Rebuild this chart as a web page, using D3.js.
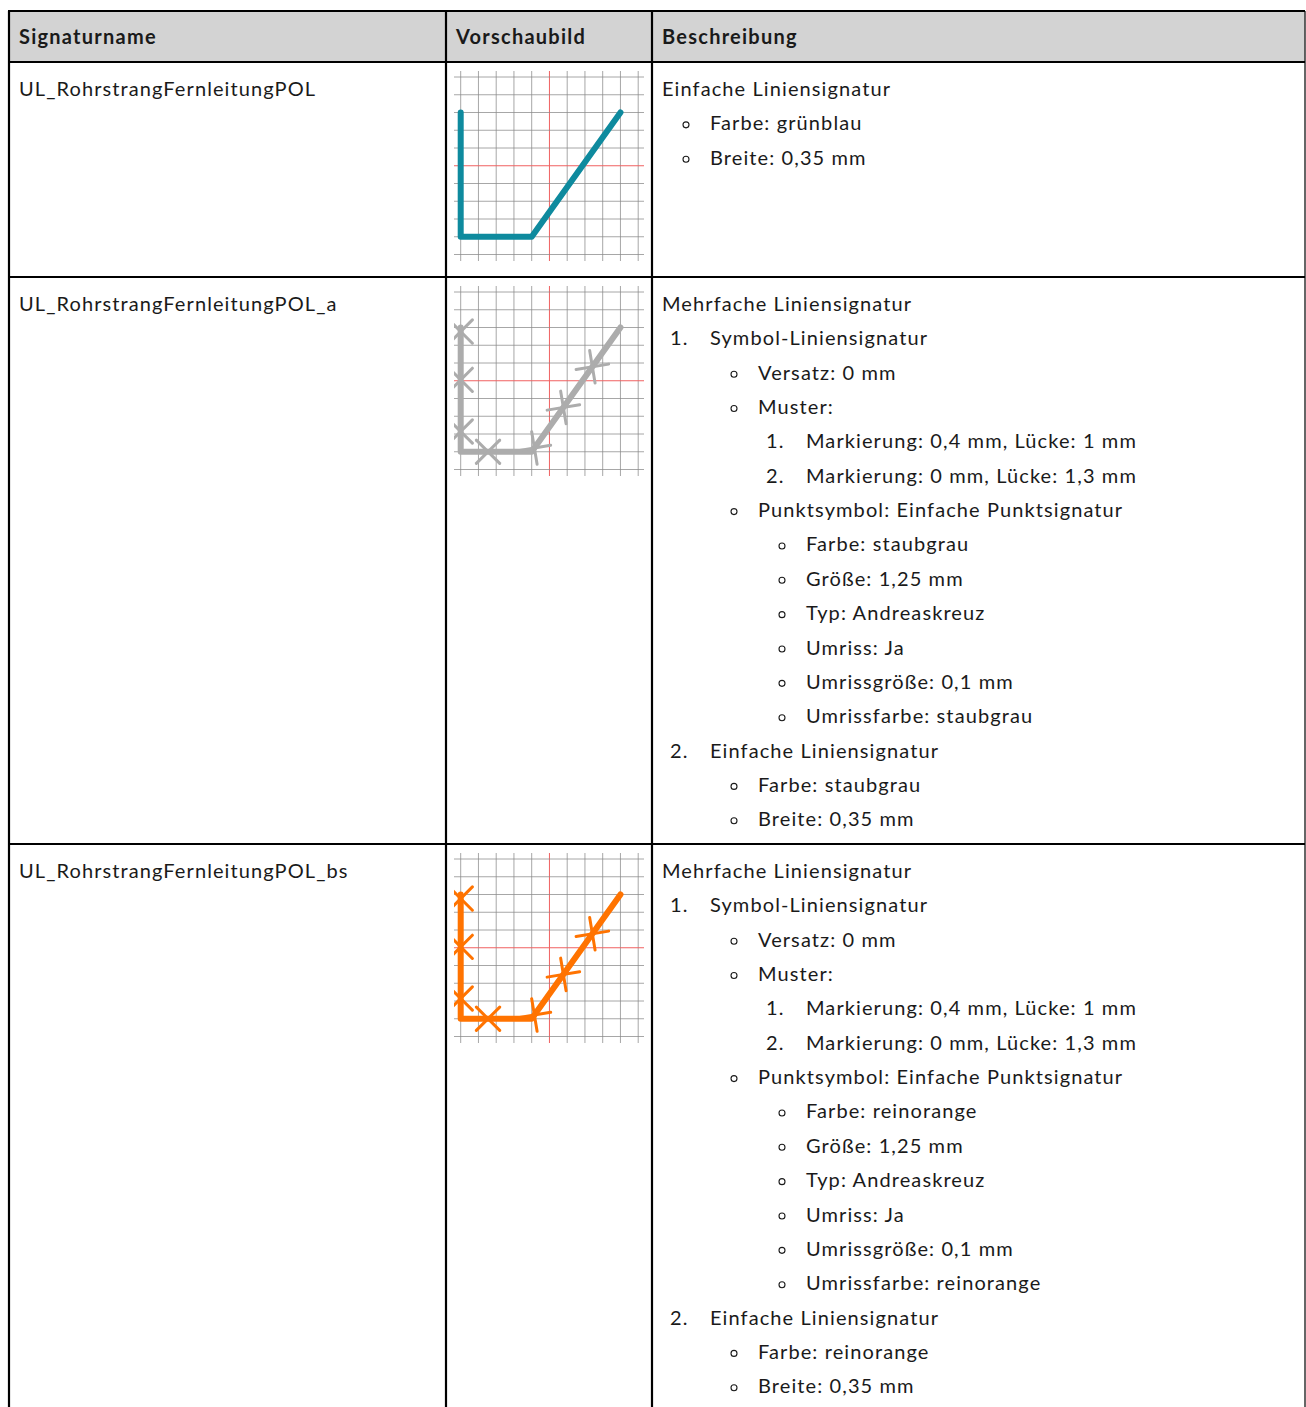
<!DOCTYPE html>
<html>
<head>
<meta charset="utf-8">
<script src="https://cdn.jsdelivr.net/npm/d3@7"></script>
<style>
    body { margin: 0; background: #fff; }
    text { font-family: Lato, "Noto Sans", sans-serif; fill: #1a1a1a; letter-spacing: 1.1px; }
</style>
</head>
<body>
<svg id="tbl" width="1306" height="1407"></svg>
<script>
// table content
const headers = ["Signaturname", "Vorschaubild", "Beschreibung"];
const signatureNames = ["UL_RohrstrangFernleitungPOL", "UL_RohrstrangFernleitungPOL_a", "UL_RohrstrangFernleitungPOL_bs"];
const lineColors = ["#0e8a9e", "#acacac", "#ff7300"];
const hasCrosses = [false, true, true];

// [level, marker, text]
const descRow1 = [
    [0, "", "Einfache Liniensignatur"],
    [1, "◦", "Farbe: grünblau"],
    [1, "◦", "Breite: 0,35 mm"]
];
const descRow2 = [
    [0, "", "Mehrfache Liniensignatur"],
    [1, "1.", "Symbol-Liniensignatur"],
    [2, "◦", "Versatz: 0 mm"],
    [2, "◦", "Muster:"],
    [3, "1.", "Markierung: 0,4 mm, Lücke: 1 mm"],
    [3, "2.", "Markierung: 0 mm, Lücke: 1,3 mm"],
    [2, "◦", "Punktsymbol: Einfache Punktsignatur"],
    [3, "◦", "Farbe: staubgrau"],
    [3, "◦", "Größe: 1,25 mm"],
    [3, "◦", "Typ: Andreaskreuz"],
    [3, "◦", "Umriss: Ja"],
    [3, "◦", "Umrissgröße: 0,1 mm"],
    [3, "◦", "Umrissfarbe: staubgrau"],
    [1, "2.", "Einfache Liniensignatur"],
    [2, "◦", "Farbe: staubgrau"],
    [2, "◦", "Breite: 0,35 mm"]
];
const descRow3 = [
    [0, "", "Mehrfache Liniensignatur"],
    [1, "1.", "Symbol-Liniensignatur"],
    [2, "◦", "Versatz: 0 mm"],
    [2, "◦", "Muster:"],
    [3, "1.", "Markierung: 0,4 mm, Lücke: 1 mm"],
    [3, "2.", "Markierung: 0 mm, Lücke: 1,3 mm"],
    [2, "◦", "Punktsymbol: Einfache Punktsignatur"],
    [3, "◦", "Farbe: reinorange"],
    [3, "◦", "Größe: 1,25 mm"],
    [3, "◦", "Typ: Andreaskreuz"],
    [3, "◦", "Umriss: Ja"],
    [3, "◦", "Umrissgröße: 0,1 mm"],
    [3, "◦", "Umrissfarbe: reinorange"],
    [1, "2.", "Einfache Liniensignatur"],
    [2, "◦", "Farbe: reinorange"],
    [2, "◦", "Breite: 0,35 mm"]
];
const descriptions = [descRow1, descRow2, descRow3];

// preview polyline in grid cells (grid 0..10)
const pathCol = [0, 0, 4, 9];
const pathRow = [2, 9, 9, 2];
// cross positions along the polyline, in grid cells
const crossAt = [0.23, 2.95, 5.86, 8.54, 11.26, 14.07, 16.88];
const gridTicks = [0, 1, 2, 3, 4, 5, 6, 7, 8, 9, 10];

// layout
const colX = [9, 446, 652, 1305];
const rowY = [11, 62, 277, 844, 1430];
const lineH = 34.35;
const levelX = [662, 710, 758, 806];

const svg = d3.select("#tbl");

// header background
svg.append("rect")
    .attr("x", colX[0]).attr("y", rowY[0])
    .attr("width", colX[3] - colX[0]).attr("height", rowY[1] - rowY[0])
    .attr("fill", "#d3d3d3");

svg.selectAll("text.hdr")
    .data(headers)
    .enter()
    .append("text")
    .attr("class", "hdr")
    .attr("x", (d, i) => colX[i] + 10)
    .attr("y", 44)
    .style("font-size", "20px")
    .style("font-weight", "bold")
    .style("letter-spacing", "1.25px")
    .text(d => d);

signatureNames.forEach(function (name, r) {
    const top = rowY[r + 1];

    svg.append("text")
        .attr("x", 19)
        .attr("y", top + 34)
        .style("font-size", "20px")
        .text(name);

    // preview image
    const x = d3.scaleLinear().domain([0, 10]).range([460.7, 638.2]);
    const y = d3.scaleLinear().domain([0, 10]).range([top + 15, top + 192.5]);
    const g = svg.append("g");

    const clipId = "clip" + r;
    svg.append("clipPath").attr("id", clipId)
        .append("rect")
        .attr("x", 454).attr("y", top + 9)
        .attr("width", 190).attr("height", 190);

    g.selectAll("line.v")
        .data(gridTicks)
        .enter()
        .append("line")
        .attr("x1", d => x(d)).attr("x2", d => x(d))
        .attr("y1", top + 9).attr("y2", top + 199)
        .attr("stroke", d => d == 5 ? "#f06060" : "#8a8a8a")
        .attr("stroke-width", 1)
        .attr("stroke-opacity", d => d == 5 ? 1 : 0.75);

    g.selectAll("line.h")
        .data(gridTicks)
        .enter()
        .append("line")
        .attr("y1", d => y(d)).attr("y2", d => y(d))
        .attr("x1", 454).attr("x2", 644)
        .attr("stroke", d => d == 5 ? "#f06060" : "#8a8a8a")
        .attr("stroke-width", 1)
        .attr("stroke-opacity", d => d == 5 ? 1 : 0.75);

    const pts = pathCol.map((c, i) => [x(c), y(pathRow[i])]);
    const line = d3.line();

    const lg = svg.append("g").attr("clip-path", "url(#" + clipId + ")");
    lg.append("path")
        .attr("d", line(pts))
        .attr("fill", "none")
        .attr("stroke", lineColors[r])
        .attr("stroke-width", 6)
        .attr("stroke-linejoin", "round")
        .attr("stroke-linecap", "round");

    if (hasCrosses[r]) {
        const cell = x(1) - x(0);
        const segLen = [];
        for (let i = 1; i < pts.length; i++) {
            segLen.push(Math.hypot(pts[i][0] - pts[i - 1][0], pts[i][1] - pts[i - 1][1]));
        }
        const arm = 16.5;
        crossAt.forEach(function (c) {
            let dist = c * cell;
            let s = 0;
            while (s < segLen.length - 1 && dist > segLen[s]) {
                dist -= segLen[s];
                s++;
            }
            const p0 = pts[s], p1 = pts[s + 1];
            const ang = Math.atan2(p1[1] - p0[1], p1[0] - p0[0]);
            const t = dist / segLen[s];
            const cx = p0[0] + (p1[0] - p0[0]) * t;
            const cy = p0[1] + (p1[1] - p0[1]) * t;
            [Math.PI / 4, -Math.PI / 4].forEach(function (a) {
                const dx = Math.cos(ang + a) * arm, dy = Math.sin(ang + a) * arm;
                lg.append("line")
                    .attr("x1", cx - dx).attr("y1", cy - dy)
                    .attr("x2", cx + dx).attr("y2", cy + dy)
                    .attr("stroke", lineColors[r])
                    .attr("stroke-width", 3)
                    .attr("stroke-linecap", "round");
            });
        });
    }

    // description list
    const items = descriptions[r];
    const dg = svg.append("g");
    items.forEach(function (it, i) {
        const by = top + 34 + i * lineH;
        const tx = levelX[it[0]];
        if (it[1] == "◦") {
            // list bullet
            dg.append("circle")
                .attr("cx", tx - 24).attr("cy", by - 5.5)
                .attr("r", 3)
                .attr("fill", "none")
                .attr("stroke", "#1a1a1a")
                .attr("stroke-width", 1.1);
        } else if (it[1] != "") {
            dg.append("text")
                .attr("x", tx - 40).attr("y", by)
                .style("font-size", "20px")
                .text(it[1]);
        }
        dg.append("text")
            .attr("x", tx).attr("y", by)
            .style("font-size", "20px")
            .text(it[2]);
    });
});

// borders
const bd = svg.append("g").attr("stroke", "#000").attr("stroke-width", 2.2);
colX.forEach(function (cx, i) {
    bd.append("line")
        .attr("x1", cx).attr("x2", cx)
        .attr("y1", rowY[0]).attr("y2", rowY[4])
        .attr("stroke-width", i == 3 ? 1.5 : 2.2)
        .attr("stroke", i == 3 ? "#333" : "#000");
});
rowY.slice(0, 4).forEach(function (ry) {
    bd.append("line")
        .attr("x1", colX[0] - 1).attr("x2", colX[3])
        .attr("y1", ry).attr("y2", ry);
});
</script>
</body>
</html>
